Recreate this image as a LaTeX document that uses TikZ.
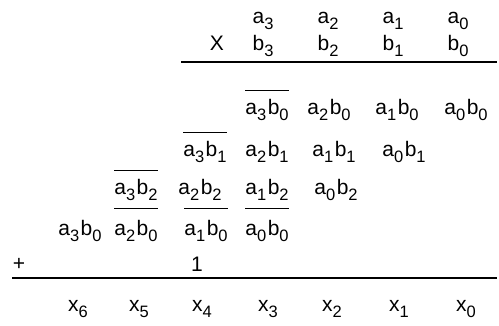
\documentclass[tikz,border=0pt]{standalone}
\usepackage{fontspec}
\setmainfont{Liberation Sans}
\newcommand{\lo}[1]{\raisebox{-6.5pt}{\fontsize{16.5}{16.5}\selectfont #1}}
\newcommand{\ab}[2]{a\lo{#1}\kern1.5pt b\lo{#2}}
\begin{document}
\begin{tikzpicture}[x=1pt,y=-1pt,
  txt/.style={inner sep=0pt,anchor=base,font=\fontsize{21}{21}\selectfont},
  rule/.style={line width=1.3pt},
  bar/.style={line width=1pt}]
\useasboundingbox (0,0) rectangle (499,325);
% operands
\node[txt] (a3) at (263,23) {a\lo{3}};
\node[txt] (a2) at (328,23) {a\lo{2}};
\node[txt] (a1) at (393,23) {a\lo{1}};
\node[txt] (a0) at (458,23) {a\lo{0}};
\node[txt] (X) at (217,50) {X};
\node[txt] (b3) at (263,50) {b\lo{3}};
\node[txt] (b2) at (328,50) {b\lo{2}};
\node[txt] (b1) at (393,50) {b\lo{1}};
\node[txt] (b0) at (458,50) {b\lo{0}};
\coordinate (l1a) at (181,62);
\coordinate (l1b) at (497,62);
\draw[rule] (l1a) -- (l1b);
% row 1
\node[txt] (r1c3) at (267,114) {\ab{3}{0}};
\node[txt] (r1c2) at (329,114) {\ab{2}{0}};
\node[txt] (r1c1) at (397,114) {\ab{1}{0}};
\node[txt] (r1c0) at (466,114) {\ab{0}{0}};
% row 2
\node[txt] (r2c4) at (205,156) {\ab{3}{1}};
\node[txt] (r2c3) at (267,156) {\ab{2}{1}};
\node[txt] (r2c2) at (334,156) {\ab{1}{1}};
\node[txt] (r2c1) at (404,156) {\ab{0}{1}};
% row 3
\node[txt] (r3c5) at (136,194) {\ab{3}{2}};
\node[txt] (r3c4) at (200,194) {\ab{2}{2}};
\node[txt] (r3c3) at (267,194) {\ab{1}{2}};
\node[txt] (r3c2) at (336,194) {\ab{0}{2}};
% row 4
\node[txt] (r4c6) at (80,235) {\ab{3}{0}};
\node[txt] (r4c5) at (136,235) {\ab{2}{0}};
\node[txt] (r4c4) at (206,235) {\ab{1}{0}};
\node[txt] (r4c3) at (267,235) {\ab{0}{0}};
% overlines
\foreach \n in {r1c3,r2c4,r3c5}
  \draw[bar] ([yshift=8pt]\n.north west) -- ([yshift=8pt]\n.north east);
\foreach \n in {r4c5,r4c4,r4c3}
  \draw[bar] ([yshift=11pt]\n.north west) -- ([yshift=11pt]\n.north east);
% carry
\node[txt] (plus) at (19,270) {+};
\node[txt] (one) at (197,271) {1};
\coordinate (l2a) at (12,278);
\coordinate (l2b) at (497,278);
\draw[rule] (l2a) -- (l2b);
% result
\node[txt] (x6) at (78,311) {x\lo{6}};
\node[txt] (x5) at (139,311) {x\lo{5}};
\node[txt] (x4) at (202,311) {x\lo{4}};
\node[txt] (x3) at (268,311) {x\lo{3}};
\node[txt] (x2) at (332,311) {x\lo{2}};
\node[txt] (x1) at (399,311) {x\lo{1}};
\node[txt] (x0) at (466,311) {x\lo{0}};
\end{tikzpicture}
\end{document}
